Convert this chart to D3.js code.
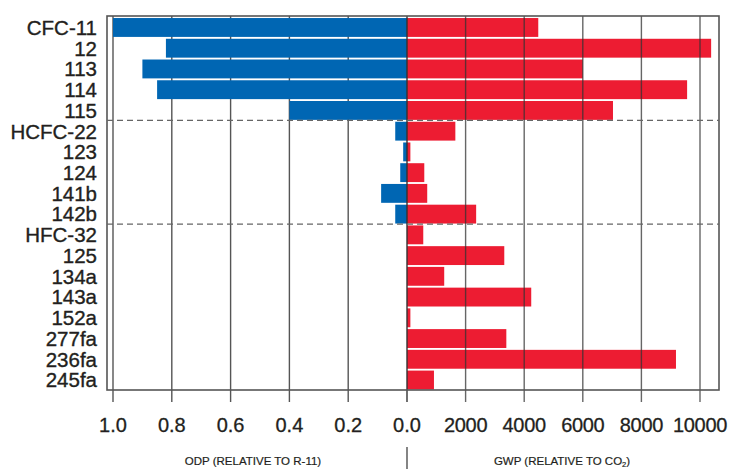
<!DOCTYPE html>
<html>
<head>
<meta charset="utf-8">
<script src="https://cdn.jsdelivr.net/npm/d3@7"></script>
<style>
  html, body { margin: 0; padding: 0; background: #fff; }
  svg { display: block; font-family: 'Liberation Sans', Arial, Helvetica, sans-serif; }
</style>
</head>
<body>
<div id="app"></div>
<script>
// Compounds, top to bottom
const compounds = ['CFC-11', '12', '113', '114', '115', 'HCFC-22', '123', '124', '141b', '142b',
  'HFC-32', '125', '134a', '143a', '152a', '277fa', '236fa', '245fa'];
// Ozone depletion potential (relative to R-11)
const odpValues = [1.0, 0.82, 0.9, 0.85, 0.4, 0.04, 0.013, 0.023, 0.088, 0.04,
  0, 0, 0, 0, 0, 0, 0, 0];
// Global warming potential (relative to CO2)
const gwpValues = [4480, 10380, 6000, 9560, 7030, 1650, 115, 590, 690, 2360,
  555, 3320, 1270, 4240, 115, 3390, 9180, 920];
const odpTicks = [1.0, 0.8, 0.6, 0.4, 0.2, 0.0];
const gwpTicks = [2000, 4000, 6000, 8000, 10000];
// groups are split after these rows
const groupBreaks = ['HCFC-22', 'HFC-32'];

const W = 733, H = 469;
const frame = { left: 107, right: 719, top: 16, bottom: 390 };
const zeroX = 407;
const ink = '#231f20';

const svg = d3.select('#app').append('svg')
  .attr('width', W)
  .attr('height', H);

const xOdp = d3.scaleLinear().domain([0, 1]).range([zeroX, 113]);
const xGwp = d3.scaleLinear().domain([0, 10000]).range([zeroX, 700]);
const y = d3.scaleBand()
  .domain(compounds)
  .range([17, 390.5])
  .paddingInner(0.09)
  .paddingOuter(0.05);

const rows = compounds.map((c, i) => ({ name: c, odp: odpValues[i], gwp: gwpValues[i] }));

// left grid lines (behind the blue bars)
svg.append('g')
  .selectAll('line')
  .data(odpTicks.filter((d) => d > 0))
  .enter()
  .append('line')
  .attr('x1', (d) => xOdp(d))
  .attr('x2', (d) => xOdp(d))
  .attr('y1', frame.top)
  .attr('y2', frame.bottom + 12)
  .attr('stroke', '#555')
  .attr('stroke-width', 1.4);

svg.append('g')
  .selectAll('rect')
  .data(rows.filter((d) => d.odp > 0))
  .enter()
  .append('rect')
  .attr('x', (d) => xOdp(d.odp))
  .attr('y', (d) => y(d.name))
  .attr('width', (d) => zeroX - xOdp(d.odp))
  .attr('height', y.bandwidth())
  .attr('fill', '#0066b3');

svg.append('g')
  .selectAll('rect')
  .data(rows)
  .enter()
  .append('rect')
  .attr('x', zeroX)
  .attr('y', (d) => y(d.name))
  .attr('width', (d) => xGwp(d.gwp) - zeroX)
  .attr('height', y.bandwidth())
  .attr('fill', '#ed1c32');

// right grid lines (show through the red bars)
svg.append('g')
  .selectAll('line')
  .data(gwpTicks)
  .enter()
  .append('line')
  .attr('x1', (d) => xGwp(d))
  .attr('x2', (d) => xGwp(d))
  .attr('y1', frame.top)
  .attr('y2', frame.bottom + 12)
  .attr('stroke', '#333')
  .attr('stroke-opacity', 0.75)
  .attr('stroke-width', 1.4);

// zero line
svg.append('line')
  .attr('x1', zeroX).attr('x2', zeroX)
  .attr('y1', frame.top).attr('y2', frame.bottom + 12)
  .attr('stroke', '#333')
  .attr('stroke-width', 1.4);

// frame
svg.append('rect')
  .attr('x', frame.left)
  .attr('y', frame.top)
  .attr('width', frame.right - frame.left)
  .attr('height', frame.bottom - frame.top)
  .attr('fill', 'none')
  .attr('stroke', '#555')
  .attr('stroke-width', 1.6);

// group separators
svg.append('g')
  .selectAll('line')
  .data(groupBreaks)
  .enter()
  .append('line')
  .attr('x1', frame.left)
  .attr('x2', frame.right)
  .attr('y1', (d) => y(d) - 1.3)
  .attr('y2', (d) => y(d) - 1.3)
  .attr('stroke', '#666')
  .attr('stroke-width', 1.3)
  .attr('stroke-dasharray', '6,4');

// category labels (slight stroke for the heavier look of the original)
svg.append('g')
  .selectAll('text')
  .data(compounds)
  .enter()
  .append('text')
  .attr('x', 97)
  .attr('y', (d) => y(d) + y.bandwidth() / 2)
  .attr('dy', '0.36em')
  .attr('text-anchor', 'end')
  .attr('font-size', '20.5px')
  .attr('fill', ink)
  .attr('stroke', ink)
  .attr('stroke-width', 0.35)
  .text((d) => d);

// tick labels
const tickY = 432;
svg.append('g')
  .selectAll('text')
  .data(odpTicks)
  .enter()
  .append('text')
  .attr('x', (d) => xOdp(d))
  .attr('y', tickY)
  .attr('text-anchor', 'middle')
  .attr('font-size', '20px')
  .attr('fill', ink)
  .attr('stroke', ink)
  .attr('stroke-width', 0.3)
  .text((d) => d.toFixed(1));

svg.append('g')
  .selectAll('text')
  .data(gwpTicks)
  .enter()
  .append('text')
  .attr('x', (d) => xGwp(d))
  .attr('y', tickY)
  .attr('text-anchor', 'middle')
  .attr('font-size', '20px')
  .attr('letter-spacing', '-0.3px')
  .attr('fill', ink)
  .attr('stroke', ink)
  .attr('stroke-width', 0.3)
  .text((d) => d);

// axis titles
svg.append('text')
  .attr('x', 253)
  .attr('y', 465)
  .attr('text-anchor', 'middle')
  .attr('font-size', '11.5px')
  .attr('fill', ink)
  .attr('stroke', ink)
  .attr('stroke-width', 0.2)
  .text('ODP (RELATIVE TO R-11)');

const gwpTitle = svg.append('text')
  .attr('x', 562)
  .attr('y', 465)
  .attr('text-anchor', 'middle')
  .attr('font-size', '11.5px')
  .attr('fill', ink)
  .attr('stroke', ink)
  .attr('stroke-width', 0.2);
gwpTitle.append('tspan').text('GWP (RELATIVE TO CO');
gwpTitle.append('tspan').attr('font-size', '7.5px').attr('dy', '1.5').text('2');
gwpTitle.append('tspan').attr('dy', '-1.5').text(')');

// divider between titles
svg.append('line')
  .attr('x1', zeroX).attr('x2', zeroX)
  .attr('y1', 447).attr('y2', H)
  .attr('stroke', '#333')
  .attr('stroke-width', 1.2);
</script>
</body>
</html>
